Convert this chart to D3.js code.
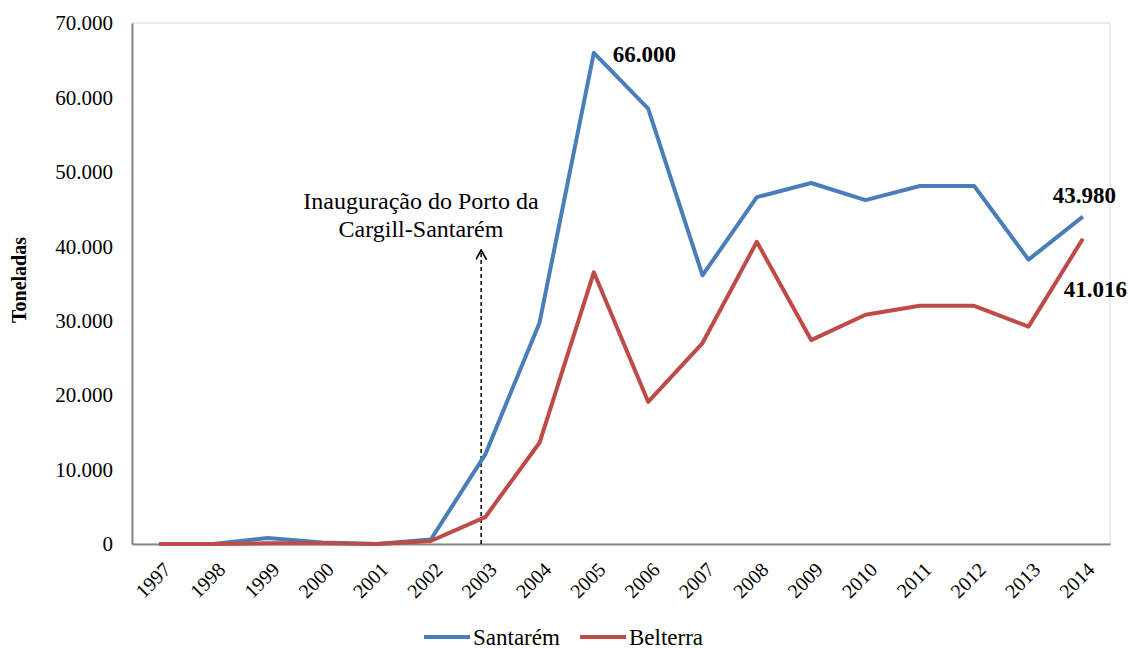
<!DOCTYPE html>
<html>
<head>
<meta charset="utf-8">
<script src="https://cdn.jsdelivr.net/npm/d3@7"></script>
<style>
  body { margin: 0; background: #fff; }
  text { font-family: "Liberation Serif", "Times New Roman", serif; fill: #000; }
</style>
</head>
<body>
<script>
const years = ["1997", "1998", "1999", "2000", "2001", "2002", "2003", "2004", "2005",
  "2006", "2007", "2008", "2009", "2010", "2011", "2012", "2013", "2014"];
const santarem = [0, 0, 800, 200, 0, 600, 12000, 29700, 66000, 58500, 36100, 46600,
  48500, 46200, 48100, 48100, 38200, 43980];
const belterra = [0, 0, 100, 100, 0, 400, 3600, 13600, 36500, 19100, 27000, 40600,
  27400, 30800, 32000, 32000, 29200, 41016];
const yTicks = [0, 10000, 20000, 30000, 40000, 50000, 60000, 70000];

const series = [
  { name: "Santarém", values: santarem, color: "#4a7ebb" },
  { name: "Belterra", values: belterra, color: "#be4b48" },
];

const width = 1128, height = 650;
const margin = { top: 23, right: 18, bottom: 106, left: 132 };

const svg = d3.select("body").append("svg")
  .attr("width", width)
  .attr("height", height);

const x = d3.scaleBand()
  .domain(years)
  .range([margin.left, width - margin.right]);

const y = d3.scaleLinear()
  .domain([0, 70000])
  .range([height - margin.bottom, margin.top]);

const fmt = (v) => d3.format(",")(v).replace(/,/g, ".");
const xc = (i) => x(years[i]) + x.bandwidth() / 2;

// plot area border (light)
svg.append("rect")
  .attr("x", margin.left)
  .attr("y", margin.top)
  .attr("width", width - margin.left - margin.right)
  .attr("height", height - margin.top - margin.bottom)
  .attr("fill", "none")
  .attr("stroke", "#d9d9d9");

// y axis
const yAxis = svg.append("g")
  .attr("transform", `translate(${margin.left},0)`)
  .call(d3.axisLeft(y).tickValues(yTicks).tickSize(0).tickPadding(19).tickFormat(fmt));
yAxis.select(".domain").attr("stroke", "#868686").attr("stroke-width", 2);
yAxis.selectAll("text").style("font-size", "21px");

// x axis
const xAxis = svg.append("g")
  .attr("transform", `translate(0,${height - margin.bottom})`)
  .call(d3.axisBottom(x).tickSize(0).tickPadding(0));
xAxis.select(".domain").attr("stroke", "#868686").attr("stroke-width", 2);
xAxis.selectAll("text")
  .style("font-size", "20px")
  .attr("text-anchor", "end")
  .attr("dy", "0.35em")
  .attr("transform", "translate(8,22) rotate(-45)");

// y title
svg.append("text")
  .attr("transform", "translate(26,280) rotate(-90)")
  .attr("text-anchor", "middle")
  .style("font-size", "20px")
  .style("font-weight", "bold")
  .text("Toneladas");

// annotation arrow
const ax = xc(6) - 4;
svg.append("defs").append("marker")
  .attr("id", "arrow")
  .attr("viewBox", "0 0 10 10")
  .attr("refX", 9).attr("refY", 5)
  .attr("markerWidth", 11).attr("markerHeight", 11)
  .attr("markerUnits", "userSpaceOnUse")
  .attr("orient", "auto")
  .append("path")
  .attr("d", "M0,0 L9,5 L0,10")
  .attr("fill", "none")
  .attr("stroke", "#000")
  .attr("stroke-width", 1.5);

svg.append("line")
  .attr("x1", ax).attr("x2", ax)
  .attr("y1", y(0)).attr("y2", y(39500))
  .attr("stroke", "#000")
  .attr("stroke-width", 1.5)
  .attr("stroke-dasharray", "4,3")
  .attr("marker-end", "url(#arrow)");

const note = svg.append("text")
  .attr("text-anchor", "middle")
  .style("font-size", "24px");
note.append("tspan").attr("x", 421).attr("y", 209).text("Inauguração do Porto da");
note.append("tspan").attr("x", 421).attr("y", 237).text("Cargill-Santarém");

// lines
const line = d3.line()
  .x((d, i) => xc(i))
  .y((d) => y(d));

svg.selectAll(".series")
  .data(series)
  .enter()
  .append("path")
  .attr("class", "series")
  .attr("fill", "none")
  .attr("stroke", (d) => d.color)
  .attr("stroke-width", 4)
  .attr("stroke-linejoin", "round")
  .attr("d", (d) => line(d.values));

// value labels
const labels = [
  { v: santarem[8], i: 8, dx: 19, dy: 9 },
  { v: santarem[17], i: 17, dx: -30, dy: -14 },
  { v: belterra[17], i: 17, dx: -19, dy: 58 },
];
svg.selectAll(".vlabel")
  .data(labels)
  .enter()
  .append("text")
  .attr("class", "vlabel")
  .attr("x", (d) => xc(d.i) + d.dx)
  .attr("y", (d) => y(d.v) + d.dy)
  .style("font-size", "23px")
  .style("font-weight", "bold")
  .text((d) => fmt(d.v));

// legend
const legendX = [424, 580];
const lg = svg.selectAll(".legend")
  .data(series)
  .enter()
  .append("g")
  .attr("class", "legend")
  .attr("transform", (d, i) => `translate(${legendX[i]},637)`);
lg.append("line")
  .attr("x1", 0).attr("x2", 46)
  .attr("stroke", (d) => d.color)
  .attr("stroke-width", 4);
lg.append("text")
  .attr("x", 49)
  .attr("dy", "0.35em")
  .style("font-size", "23px")
  .text((d) => d.name);
</script>
</body>
</html>
